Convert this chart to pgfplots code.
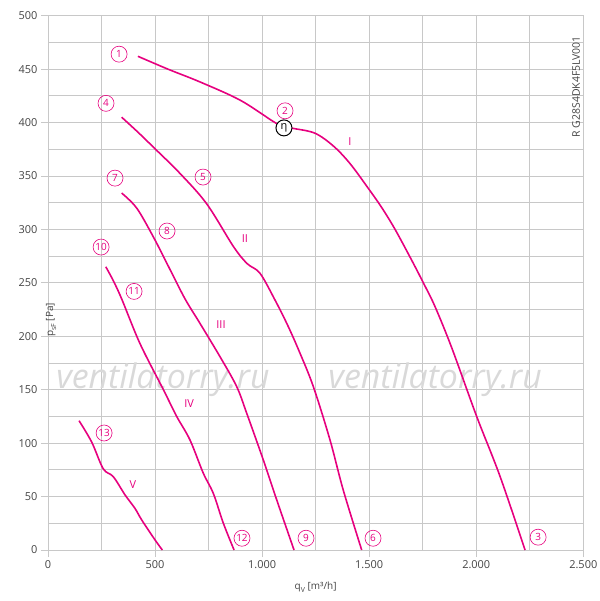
\documentclass[border=0pt]{standalone}
\usepackage{fontspec}
\setmainfont{Open Sans}
\usepackage{pgfplots}
\pgfplotsset{compat=1.18}
\definecolor{mag}{HTML}{E6007E}
\definecolor{gridc}{HTML}{C8C8C8}
\definecolor{txt}{HTML}{444444}
\begin{document}
\begin{tikzpicture}
\path[use as bounding box] (0,0) rectangle (600bp,601bp);
\begin{axis}[
  at={(48bp,51bp)}, anchor=south west,
  width=535.3bp, height=534.3bp, scale only axis,
  xmin=0, xmax=2500, ymin=0, ymax=500,
  xtick={0,500,...,2500}, minor x tick num=1,
  ytick={0,50,...,500}, minor y tick num=1,
  grid=both,
  major grid style={gridc, line width=0.8pt},
  minor grid style={gridc, line width=0.8pt},
  axis line style={gridc, line width=1pt},
  major tick length=7bp, minor tick length=0pt,
  tick style={gridc, line width=0.8pt},
  tick align=outside,
  xtick pos=bottom, ytick pos=left,
  /pgf/number format/.cd, 1000 sep={.}, assume math mode=true,
  /pgfplots/.cd,
  ticklabel style={font=\fontsize{11}{13}\selectfont, text=txt},
  xlabel={q\raisebox{-0.3em}{\fontsize{7}{8}\selectfont V} [m³/h]},
  ylabel={p\raisebox{-0.3em}{\fontsize{7}{8}\selectfont sF} [Pa]},
  x label style={at={(axis description cs:0.5,0)}, anchor=center, yshift=-37bp, font=\fontsize{10}{12}\selectfont, text=txt},
  y label style={at={(axis description cs:0,0.5)}, anchor=center, xshift=-37bp, yshift=-3bp, font=\fontsize{10}{12}\selectfont, text=txt},
  clip=false,
]
\tikzset{cv/.style={mag, line width=1.6pt, smooth, tension=0.55, mark=none}}
% watermark
\node[font=\fontsize{34}{36}\selectfont\itshape, text=gray!30] at (axis cs:537,159) {ventilatorry.ru};
\node[font=\fontsize{34}{36}\selectfont\itshape, text=gray!30] at (axis cs:1808,159) {ventilatorry.ru};

% curve I
\addplot[cv] coordinates {(420,462)(560,450)(710,438)(897,421)(1052,401)(1100,396)(1146,394.5)(1247,390)(1333,378)(1411,361.5)(1501,337)(1560,320)(1621,300)(1699,271)(1753,250)(1807,228)(1886,189)(2002,125)(2111,69)(2228,0)};
% curve II
\addplot[cv] coordinates {(344,405)(420,391)(492,377)(616,352.5)(741,324)(866,284)(930,268)(990,259)(1060,234)(1120,210)(1173,186)(1239,153)(1317,103)(1379,56)(1465,0)};
% curve III
\addplot[cv] coordinates {(344,334)(414,320)(492,293)(566,264)(640,235)(710,212)(803,181)(881,153)(928,128)(1006,84)(1068,47)(1149,0)};
% curve IV
\addplot[cv] coordinates {(270,265)(305,252)(344,235)(430,193)(539,150)(601,125)(663,103)(725,72)(772,53)(819,25)(869,0)};
% curve V
\addplot[cv] coordinates {(145,121)(204,101)(258,76)(305,68.6)(360,51.5)(406,39)(438,28)(500,9.4)(534,0)};

% circled labels
\tikzset{cl/.style={circle, draw=mag, line width=0.6pt, minimum size=16bp, inner sep=0pt, text=mag, font=\fontsize{10}{12}\selectfont}}
\node[cl] at (axis cs:332,464) {1};
\node[cl] at (axis cs:1107,411) {2};
\node[cl] at (axis cs:2289,12) {3};
\node[cl] at (axis cs:271,418) {4};
\node[cl] at (axis cs:724,349) {5};
\node[cl] at (axis cs:1518,11) {6};
\node[cl] at (axis cs:313,348) {7};
\node[cl] at (axis cs:556,298.5) {8};
\node[cl] at (axis cs:1205,11) {9};
\node[cl] at (axis cs:248,283.5) {10};
\node[cl] at (axis cs:402,242) {11};
\node[cl] at (axis cs:906,11) {12};
\node[cl] at (axis cs:262,109.5) {13};
\node[circle, draw=black, line width=1pt, minimum size=16bp, inner sep=0pt, font=\fontsize{11}{12}\selectfont, fill=white] at (axis cs:1102,395) {η};

% roman labels
\tikzset{rl/.style={text=mag, font=\fontsize{11}{13}\selectfont}}
\node[rl] at (axis cs:1410,382) {I};
\node[rl] at (axis cs:920,291) {II};
\node[rl] at (axis cs:808,210.5) {III};
\node[rl] at (axis cs:659,136.6) {IV};
\node[rl] at (axis cs:397,61) {V};

% rotated code
\node[rotate=90, text=txt, font=\fontsize{10.5}{12}\selectfont] at (axis cs:2466,433.5) {R G28S4DK4F5LV001};
\end{axis}
\end{tikzpicture}
\end{document}
